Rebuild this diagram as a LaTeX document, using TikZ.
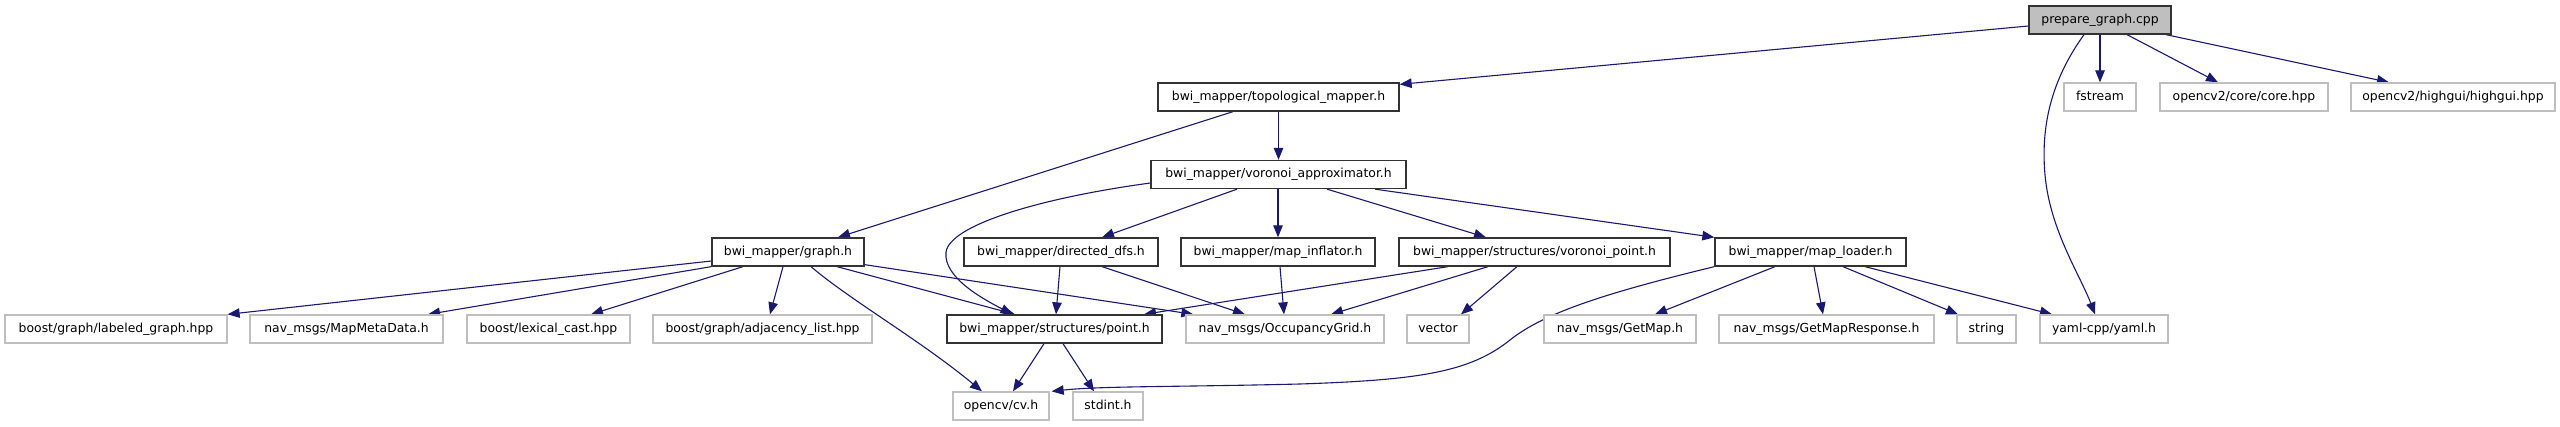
\documentclass[tikz,border=0pt]{standalone}
\usepackage{fontspec}
\setmainfont{DejaVu Sans}
\usetikzlibrary{arrows.meta}
\definecolor{edgeblue}{HTML}{191970}
\definecolor{greyext}{HTML}{BFBFBF}
\pgfdeclarelayer{bg}
\pgfsetlayers{bg,main}
\begin{document}
\begin{tikzpicture}[x=1pt,y=-1pt,
  box/.style={draw, rectangle, line width=1.3pt, inner sep=0pt, minimum height=28pt,
    font=\fontsize{12.4}{14}\selectfont, text height=9.3pt, text depth=2.7pt, fill=white},
  doc/.style={box, draw=black!80},
  ext/.style={box, draw=greyext},
  root/.style={box, draw=black!80, fill=greyext},
  edge/.style={draw=edgeblue, line width=1.1pt, -{Triangle[length=12pt,width=9.5pt,fill=edgeblue]}}
]
\useasboundingbox (0,0) rectangle (2560,427);
% row 0
\node[root, minimum width=142pt] (prep) at (2100,20) {prepare\_graph.cpp};
% row 1
\node[doc, minimum width=241pt] (topo) at (1278.5,97) {bwi\_mapper/topological\_mapper.h};
\node[ext, minimum width=72pt] (fstream) at (2100,97) {fstream};
\node[ext, minimum width=168pt] (core) at (2244,97) {opencv2/core/core.hpp};
\node[ext, minimum width=204pt] (highgui) at (2453,97) {opencv2/highgui/highgui.hpp};
% row 2
\node[doc, minimum width=255pt] (voro) at (1278.5,174.5) {bwi\_mapper/voronoi\_approximator.h};
% row 3
\node[doc, minimum width=152pt] (graph) at (788,252) {bwi\_mapper/graph.h};
\node[doc, minimum width=194pt] (ddfs) at (1061,252) {bwi\_mapper/directed\_dfs.h};
\node[doc, minimum width=194pt] (infl) at (1278,252) {bwi\_mapper/map\_inflator.h};
\node[doc, minimum width=271pt] (vpoint) at (1534.5,252) {bwi\_mapper/structures/voronoi\_point.h};
\node[doc, minimum width=191pt] (loader) at (1810.5,252) {bwi\_mapper/map\_loader.h};
% row 4
\node[ext, minimum width=222pt] (labeled) at (116,329) {boost/graph/labeled\_graph.hpp};
\node[ext, minimum width=193pt] (meta) at (346.5,329) {nav\_msgs/MapMetaData.h};
\node[ext, minimum width=163pt] (lexical) at (548.5,329) {boost/lexical\_cast.hpp};
\node[ext, minimum width=219pt] (adj) at (762.5,329) {boost/graph/adjacency\_list.hpp};
\node[doc, minimum width=215pt] (point) at (1054.5,329) {bwi\_mapper/structures/point.h};
\node[ext, minimum width=198pt] (occ) at (1285,329) {nav\_msgs/OccupancyGrid.h};
\node[ext, minimum width=62pt] (vector) at (1438,329) {vector};
\node[ext, minimum width=152pt] (getmap) at (1620,329) {nav\_msgs/GetMap.h};
\node[ext, minimum width=215pt] (getmapresp) at (1826.5,329) {nav\_msgs/GetMapResponse.h};
\node[ext, minimum width=59pt] (string) at (1986.5,329) {string};
\node[ext, minimum width=128pt] (yaml) at (2104,329) {yaml-cpp/yaml.h};
% row 5
\node[ext, minimum width=96pt] (cv) at (1001,406) {opencv/cv.h};
\node[ext, minimum width=70pt] (stdint) at (1108,406) {stdint.h};

\begin{pgfonlayer}{bg}
% edges from prepare_graph.cpp
\draw[edge] ([yshift=-6pt]prep.west) -- ([yshift=-2pt]topo.north east);
\draw[edge] (prep.south) -- (fstream.north);
\draw[edge] ([xshift=27pt]prep.south) -- ([xshift=-26pt]core.north);
\draw[edge] ([xshift=66pt]prep.south) -- ([xshift=-64pt]highgui.north);
\draw[edge] ([xshift=-16pt]prep.south) .. controls (2055,75) and (2040,120) .. (2045,175)
   .. controls (2050,230) and (2080,275) .. ([xshift=-9pt]yaml.north);
% topological
\draw[edge] (topo.south) -- (voro.north);
\draw[edge] ([xshift=-45.5pt]topo.south) -- ([xshift=50pt]graph.north);
% graph.h
\draw[edge] ([yshift=-9pt]graph.west) -- (labeled.north east);
\draw[edge] (graph.south west) -- ([xshift=81.5pt]meta.north);
\draw[edge] ([xshift=-45pt]graph.south) -- ([xshift=42.5pt]lexical.north);
\draw[edge] ([xshift=-5pt]graph.south) -- ([xshift=7.5pt]adj.north);
\draw[edge] ([xshift=23pt]graph.south) .. controls (850,300) and (920,340) .. ([xshift=-19pt]cv.north);
\draw[edge] ([xshift=49pt]graph.south) -- ([xshift=-39.5pt]point.north);
\draw[edge] ([yshift=2pt]graph.south east) -- ([xshift=8pt]occ.north west);
% voronoi_approximator
\draw[edge] ([yshift=-8.5pt]voro.west) .. controls (1040,198) and (950,225) .. (946,252)
   .. controls (943,278) and (985,300) .. ([xshift=-42pt]point.north);
\draw[edge] ([xshift=-41.5pt]voro.south) -- ([xshift=41pt]ddfs.north);
\draw[edge] ([xshift=-0.5pt]voro.south) -- (infl.north);
\draw[edge] ([xshift=48.5pt]voro.south) -- ([xshift=-48.5pt]vpoint.north);
\draw[edge] ([xshift=96.5pt]voro.south) -- (loader.north west);
% directed_dfs, map_inflator
\draw[edge] ([xshift=-1pt]ddfs.south) -- ([xshift=1.5pt]point.north);
\draw[edge] ([xshift=41pt]ddfs.south) -- ([xshift=-40pt]occ.north);
\draw[edge] ([xshift=2pt]infl.south) -- ([xshift=-1pt]occ.north);
% voronoi_point
\draw[edge] ([xshift=-86.5pt]vpoint.south) -- ([xshift=89.5pt]point.north);
\draw[edge] ([xshift=-46.5pt]vpoint.south) -- ([xshift=46pt]occ.north);
\draw[edge] ([xshift=-17.5pt]vpoint.south) -- ([xshift=23pt]vector.north);
% map_loader
\draw[edge] (loader.south west) .. controls (1610,292) and (1545,312) .. (1510,340)
   .. controls (1470,372) and (1420,380) .. (1300,384)
   .. controls (1180,387) and (1100,386) .. ([xshift=2pt]cv.north east);
\draw[edge] ([xshift=-35.5pt]loader.south) -- ([xshift=35pt]getmap.north);
\draw[edge] ([xshift=3.5pt]loader.south) -- ([xshift=-3.5pt]getmapresp.north);
\draw[edge] ([xshift=32.5pt]loader.south) -- ([xshift=-28.5pt]string.north);
\draw[edge] ([xshift=54.5pt]loader.south) -- ([xshift=-52pt]yaml.north);
% point.h
\draw[edge] ([xshift=-10.5pt]point.south) -- ([xshift=12pt]cv.north);
\draw[edge] ([xshift=8.5pt]point.south) -- ([xshift=-14pt]stdint.north);
\end{pgfonlayer}
\end{tikzpicture}
\end{document}
